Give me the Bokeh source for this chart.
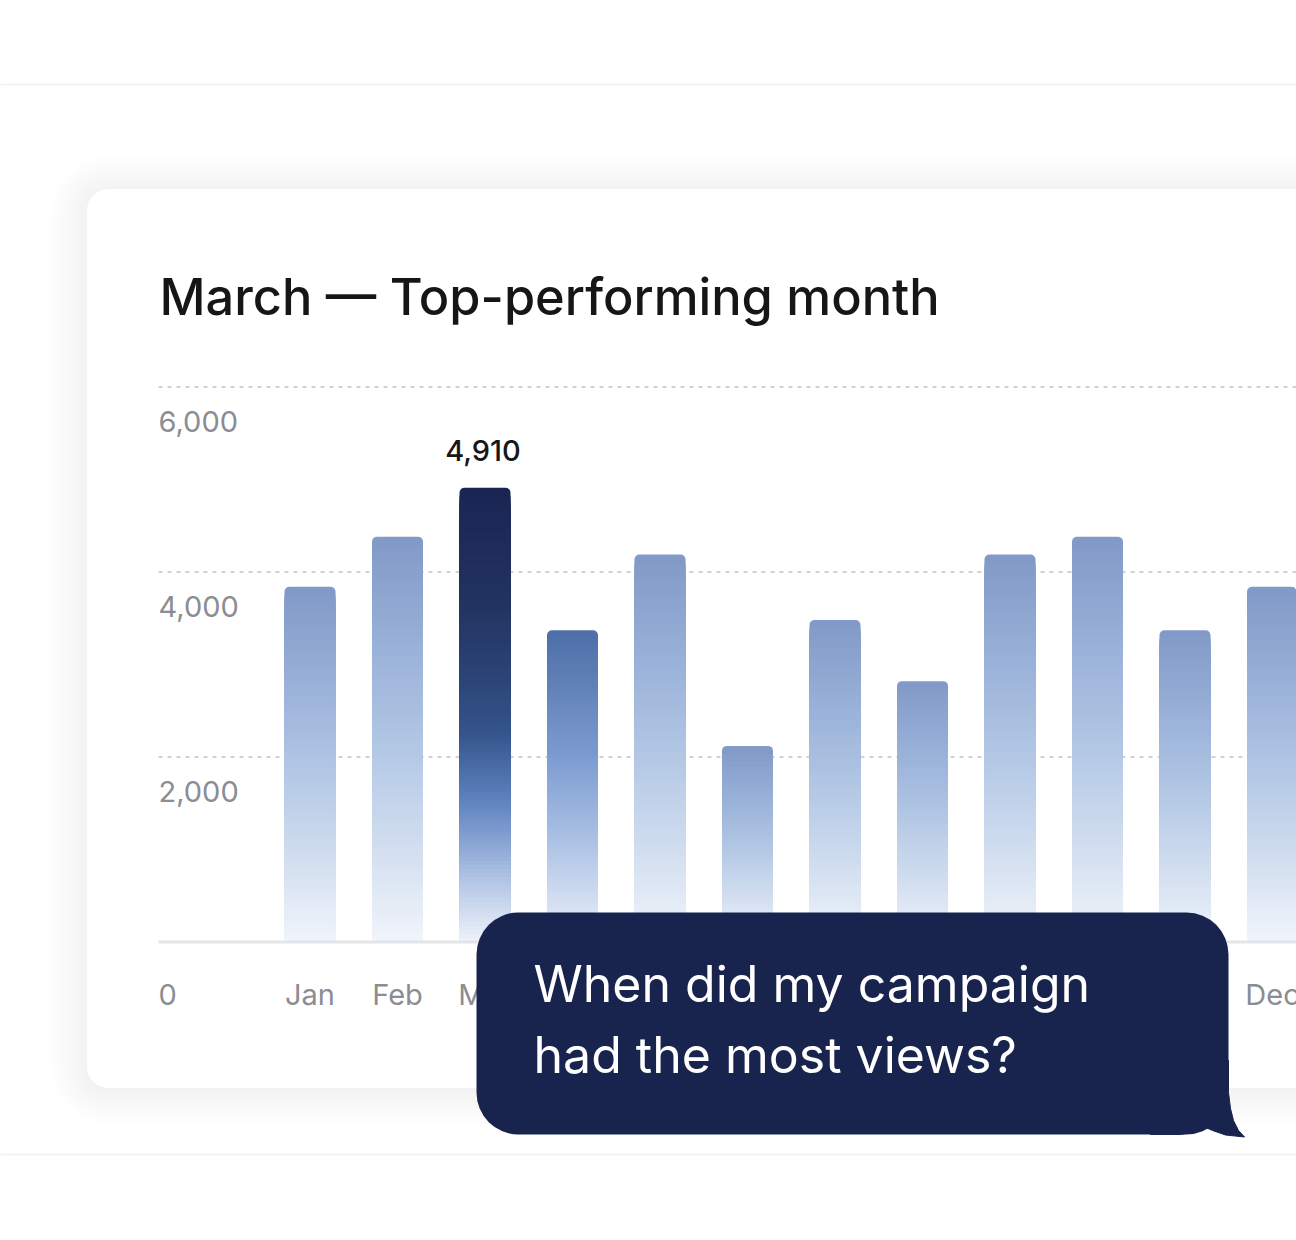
from bokeh.plotting import figure
from bokeh.models import ColumnDataSource, Range1d
from bokeh.core.properties import value
from bokeh.embed import file_html
from bokeh.resources import INLINE

# data
months = ["Jan", "Feb", "Mar", "Apr", "May", "Jun", "Jul", "Aug", "Sep", "Oct", "Nov", "Dec"]
views = [3840, 4380, 4910, 3370, 4190, 2120, 3480, 2820, 4190, 4380, 3370, 3840]
y_ticks = [0, 2000, 4000, 6000]
y_tick_labels = ["0", "2,000", "4,000", "6,000"]
title_text = "March \u2014 Top-performing month"
question = ["When did my campaign", "had the most views?"]

# layout (picture pixels)
W, H = 1296, 1240
PX_PER_MONTH = 87.5
PX_PER_VIEW = 0.0925
JAN_X = 309.5
ZERO_Y = 941.5
FONT = value("Inter")
FONT_MED = value("'Inter Medium', Inter")
GREY = "#8a8d93"
NAVY = "#18244e"

# gradient stops (t=0 bottom of bar, t=1 top)
BASE = [(0.0, "#f1f5fb"), (0.2, "#d6e1f1"), (0.45, "#b6cae6"), (0.7, "#9cb3da"), (1.0, "#8199c6")]
MID = [(0.0, "#eef2fa"), (0.3, "#b0c5e6"), (0.6, "#7b9bd0"), (1.0, "#4c6ea6")]
PEAK = [(0.0, "#eef2fa"), (0.13, "#b5c7e6"), (0.24, "#7e9ccf"), (0.31, "#5f83c0"),
        (0.46, "#34548c"), (0.6, "#2a4274"), (0.75, "#22335f"), (1.0, "#1a2553")]
accent = {"Mar": PEAK, "Apr": MID}


def ramp(stops, t):
    t = min(max(t, 0.0), 1.0)
    for (t0, c0), (t1, c1) in zip(stops[:-1], stops[1:]):
        if t <= t1:
            f = (t - t0) / (t1 - t0)
            a = [int(c0[i:i + 2], 16) for i in (1, 3, 5)]
            b = [int(c1[i:i + 2], 16) for i in (1, 3, 5)]
            return "#%02x%02x%02x" % tuple(round(a[j] + (b[j] - a[j]) * f) for j in range(3))
    return stops[-1][1]


x0 = -JAN_X / PX_PER_MONTH
y0 = -(H - ZERO_Y) / PX_PER_VIEW

p = figure(width=W, height=H, output_backend="svg", toolbar_location=None,
           x_range=Range1d(x0, x0 + W / PX_PER_MONTH), y_range=Range1d(y0, y0 + H / PX_PER_VIEW),
           x_axis_location=None, y_axis_location=None, min_border=0,
           background_fill_color="white", border_fill_color="white", outline_line_color=None)
p.grid.visible = False
p.extra_x_ranges = {"px": Range1d(0, W)}
p.extra_y_ranges = {"px": Range1d(H, 0)}
PX = dict(x_range_name="px", y_range_name="px")

# page separators
p.segment(x0=[0, 0], x1=[W, W], y0=[84, 1154], y1=[84, 1154], line_color="#eff0f1", line_width=1.5, **PX)

# card shadow + card
for s in range(1, 13):
    p.quad(left=86 - 3 * s, right=1360, top=188 - 3 * s + 3, bottom=1088 + 3 * s, fill_color="#7c8282",
           fill_alpha=0.007, line_color=None, border_radius=22 + 3 * s, **PX)
p.quad(left=86, right=1340, top=188, bottom=1088, fill_color="white", line_color="#f1f2f3",
       line_width=1, border_radius=22, **PX)

# dashed grid lines
grid = ColumnDataSource(dict(y=y_ticks[1:], x0=[158] * 3, x1=[W] * 3))
p.segment(x0="x0", x1="x1", y0="y", y1="y", source=grid, line_color="#cfd3d8", line_width=2.2,
          line_dash="4 5", x_range_name="px")

# bars: rounded cap then gradient slices
N = 110
cap_units = 8 / PX_PER_VIEW
bar_w = 51 / PX_PER_MONTH
caps = dict(x=[], top=[], color=[])
slices = dict(x=[], top=[], color=[])
for i, (m, v) in enumerate(zip(months, views)):
    stops = accent.get(m, BASE)
    caps["x"].append(i)
    caps["top"].append(v)
    caps["color"].append(ramp(stops, 1 - 0.5 * cap_units / v))
    lim = v - cap_units
    for k in range(N, 0, -1):
        slices["x"].append(i)
        slices["top"].append(lim * k / N)
        slices["color"].append(ramp(stops, lim * (k - 0.5) / N / v))
p.vbar(x="x", top="top", bottom=0, width=bar_w, fill_color="color", line_color=None,
       border_radius=(5, 5, 0, 0), source=ColumnDataSource(caps))
p.vbar(x="x", top="top", bottom=0, width=bar_w, fill_color="color", line_color=None,
       source=ColumnDataSource(slices))

# baseline
p.segment(x0=[158], x1=[W], y0=[0], y1=[0], line_color="#e2e5e9", line_width=3, x_range_name="px")

# y tick labels
ticks = ColumnDataSource(dict(x=[158] * 4, y=y_ticks, text=y_tick_labels, off=[52.5, 34.5, 34.5, 34.5]))
p.text(x="x", y="y", text="text", y_offset="off", source=ticks, text_font=FONT, text_font_size="29px",
       text_color=GREY, text_baseline="alphabetic", x_range_name="px")

# month labels
p.text(x=list(range(len(months))), y=[0] * len(months), text=months, y_offset=52.5, text_font=FONT,
       text_font_size="29px", text_color=GREY, text_align="center", text_baseline="alphabetic")

# peak value label
peak = views.index(max(views))
p.text(x=[peak], y=[views[peak]], text=[f"{views[peak]:,}"], y_offset=-37, x_offset=-2, text_font=FONT_MED,
       text_font_size="29px", text_color="#161616", text_align="center", text_baseline="alphabetic")

# title
p.text(x=[159], y=[296], text=[title_text], text_font=FONT_MED, text_font_size="50.5px",
       text_color="#161616", text_baseline="alphabetic", **PX)

# speech bubble
p.quad(left=476, right=1228, top=912, bottom=1134, fill_color=NAVY, line_color=None, border_radius=42, **PX)
tail_x = [1150, 1228, 1228, 1230, 1233, 1238, 1244, 1225, 1212, 1203, 1195, 1180, 1150]
tail_y = [1060, 1060, 1092, 1108, 1120, 1130, 1136.5, 1134.5, 1130, 1126, 1131, 1134, 1134]
p.patch(tail_x, tail_y, fill_color=NAVY, line_color=NAVY, line_width=1, **PX)
p.text(x=[533, 533], y=[983, 1054], text=question, text_font=FONT, text_font_size="50px",
       text_color="white", text_baseline="alphabetic", **PX)

open("out.html", "w").write(file_html(p, INLINE))
